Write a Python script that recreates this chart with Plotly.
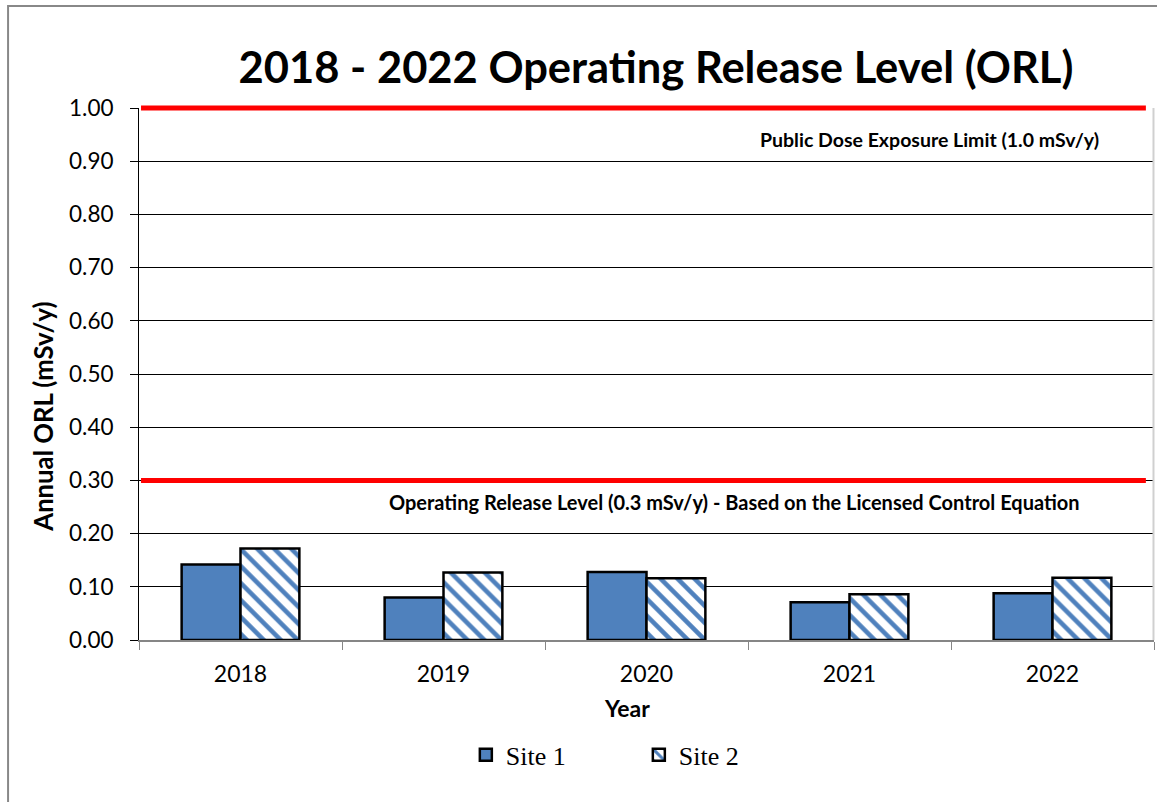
import plotly.graph_objects as go

# Annual operating release level per site (mSv/y)
years = ["2018", "2019", "2020", "2021", "2022"]
site1 = [0.142, 0.080, 0.128, 0.071, 0.088]
site2 = [0.172, 0.127, 0.116, 0.086, 0.117]

# Reference limits drawn as horizontal lines
public_limit = 1.0
orl_limit = 0.3
public_label = "Public Dose Exposure Limit (1.0 mSv/y)"
orl_label = "Operating Release Level (0.3 mSv/y) - Based on the Licensed Control Equation"

y_max = 1.0
y_ticks = [i / 10 for i in range(11)]
y_tick_text = [f"{v:.2f}" for v in y_ticks]

BLUE = "#4F81BD"
FONT = "Lato"

fig = go.Figure()
fig.add_trace(go.Bar(
    x=years, y=site1, name="Site 1",
    marker=dict(color=BLUE, line=dict(color="black", width=2.5)),
))
fig.add_trace(go.Bar(
    x=years, y=site2, name="Site 2",
    marker=dict(
        color="white",
        line=dict(color="black", width=2.5),
        pattern=dict(shape="\\", fgcolor=BLUE, bgcolor="white",
                     size=12, solidity=0.38, fillmode="replace"),
    ),
))

# Limit lines (paper coordinates so the top one is not clipped by the plot area)
for level in (public_limit, orl_limit):
    fig.add_shape(type="line", xref="paper", yref="paper",
                  x0=0.002, x1=0.992, y0=level / y_max, y1=level / y_max,
                  line=dict(color="#FF0000", width=5), layer="above")

# Outer chart frame
fig.add_shape(type="rect", xref="paper", yref="paper",
              x0=-0.129, x1=1.2, y0=-0.5, y1=1.1917,
              line=dict(color="#888888", width=2), fillcolor="rgba(0,0,0,0)")
fig.add_shape(type="line", xref="paper", yref="paper",
              x0=0.9995, x1=0.9995, y0=0, y1=1,
              line=dict(color="#D0D0D0", width=2))

fig.add_annotation(text=f"<b>{public_label}</b>", xref="paper", yref="paper",
                   x=0.779, y=0.94, xanchor="center", yanchor="middle",
                   showarrow=False,
                   font=dict(family=FONT, size=19.5, color="black"))
fig.add_annotation(text=f"<b>{orl_label}</b>", xref="paper", yref="paper",
                   x=0.5865, y=0.2594, xanchor="center", yanchor="middle",
                   showarrow=False,
                   font=dict(family=FONT, size=20, color="black"))
fig.add_annotation(text="<b>Year</b>", xref="paper", yref="paper",
                   x=0.481, y=-0.128, xanchor="center", yanchor="middle",
                   showarrow=False,
                   font=dict(family=FONT, size=23, color="black"))
# Vertical axis title
fig.add_annotation(text="<b>Annual ORL (mSv/y)</b>", xref="paper", yref="paper",
                   x=-0.094, y=0.419, xanchor="center", yanchor="middle",
                   textangle=-90, showarrow=False,
                   font=dict(family=FONT, size=25.7, color="black"))

fig.update_layout(
    width=1157, height=802,
    margin=dict(l=139, r=3, t=108, b=162),
    paper_bgcolor="white", plot_bgcolor="white",
    title=dict(text="<b>2018 - 2022 Operating Release Level (ORL)</b>",
               x=0.567, xanchor="center", y=0.915, yanchor="middle",
               font=dict(family=FONT, size=43.5, color="black")),
    barmode="group", bargap=0.42, bargroupgap=0,
    showlegend=True,
    legend=dict(orientation="h", x=0.322, xanchor="left",
                y=-0.216, yanchor="middle",
                font=dict(family="Liberation Serif", size=26, color="black"),
                itemwidth=30, entrywidth=128, traceorder="normal"),
    xaxis=dict(
        type="category", showline=True, linecolor="#868686", linewidth=1.5,
        ticks="outside", tickson="boundaries", ticklen=8, tickcolor="#868686",
        ticklabelstandoff=13,
        tickfont=dict(family=FONT, size=23, color="black"),
        showgrid=False, zeroline=False,
    ),
    yaxis=dict(
        range=[0, y_max], tickvals=y_ticks, ticktext=y_tick_text,
        showline=True, linecolor="black", linewidth=1,
        ticks="outside", ticklen=8, tickcolor="black",
        ticklabelstandoff=12,
        tickfont=dict(family=FONT, size=22.5, color="black"),
        showgrid=True, gridcolor="black", gridwidth=1, zeroline=False,
    ),
)

fig.write_html("out.html")
